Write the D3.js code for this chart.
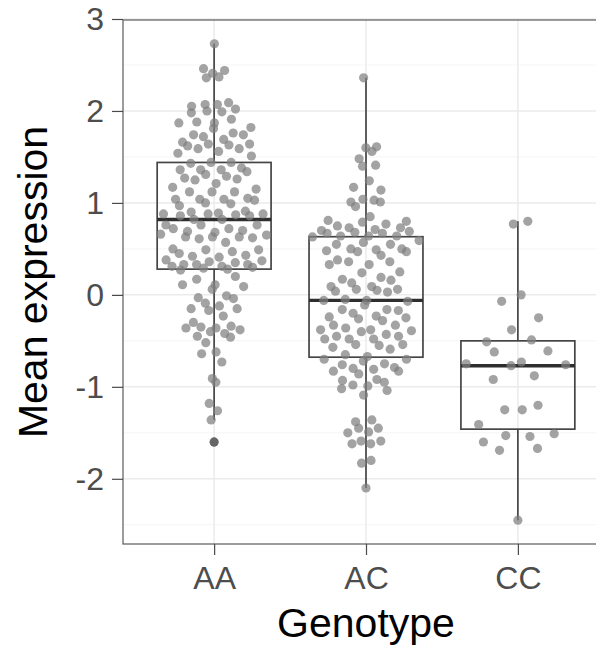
<!DOCTYPE html>
<html>
<head>
<meta charset="utf-8">
<script src="https://cdn.jsdelivr.net/npm/d3@7"></script>
<style>
body { margin: 0; background: #fff; }
svg { display: block; font-family: "Liberation Sans", Arial, Helvetica, sans-serif; }
</style>
</head>
<body>
<svg></svg>
<script>
var genotypes = ["AA", "AC", "CC"];

var aaValues = [2.73, 2.41, 2.46, 2.44, 2.36, 2.37, 2.07, 2.05, 2.00, 2.02, 2.09, 2.07, 1.99, 1.98,
    1.81, 1.88, 1.87, 1.82, 1.91, 1.87, 1.74, 1.74, 1.76, 1.72, 1.64, 1.59, 1.66, 1.62, 1.64, 1.59,
    1.69, 1.63, 1.54, 1.56, 1.51, 1.44, 1.43, 1.44,
    1.31, 1.25, 1.36, 1.36, 1.27, 1.34, 1.26, 1.38, 1.36, 1.29, 1.21, 1.17, 1.12, 1.12, 1.15, 1.04,
    1.04, 0.97, 1.00, 0.90, 0.88, 0.87, 1.03, 1.05, 1.04, 1.12, 0.99, 0.88, 0.91, 0.88, 0.89, 0.86,
    0.86, 0.82, 0.82,
    0.76, 0.72, 0.69, 0.76, 0.68, 0.63, 0.72, 0.70, 0.76, 0.66, 0.61, 0.57, 0.62, 0.63, 0.65, 0.63,
    0.50, 0.43, 0.41, 0.47, 0.49, 0.45, 0.42, 0.49, 0.37, 0.35, 0.31, 0.38, 0.33, 0.33, 0.36, 0.31,
    0.30, 0.33,
    0.27, 0.29, 0.28, 0.20, 0.17, 0.11, 0.11, 0.06, 0.09, -0.03, -0.01, -0.04, -0.15, -0.09, -0.12,
    -0.15, -0.17, -0.23, -0.30, -0.36, -0.36, -0.35, -0.34, -0.38, -0.45, -0.52, -0.40, -0.42, -0.46,
    -0.64, -0.62, -0.73, -0.91, -0.95, -1.18, -1.26, -1.36, -1.60];

var acValues = [2.36, 1.60, 1.61, 1.56, 1.48, 1.40, 1.41, 1.24, 1.17, 1.14, 1.04, 1.01, 1.01, 1.03, 0.96,
    0.85, 0.80, 0.81, 0.79, 0.73, 0.75, 0.77, 0.71, 0.68, 0.70, 0.73, 0.69, 0.64, 0.67, 0.63, 0.64,
    0.67, 0.64, 0.57, 0.55, 0.59, 0.55, 0.50, 0.50,
    0.48, 0.49, 0.43, 0.47, 0.47, 0.33, 0.38, 0.36, 0.33, 0.36, 0.24, 0.25, 0.17, 0.13, 0.19, 0.16,
    0.09, 0.04, 0.06, 0.09, 0.05, 0.03, 0.06, -0.06, -0.05, -0.06, -0.07, -0.11,
    -0.16, -0.24, -0.20, -0.26, -0.23, -0.28, -0.16, -0.17, -0.25, -0.33, -0.36, -0.39, -0.38, -0.43,
    -0.33, -0.38, -0.40, -0.48, -0.45, -0.48, -0.48, -0.54, -0.55, -0.45, -0.54, -0.57, -0.59, -0.65,
    -0.70, -0.67, -0.70, -0.83, -0.76, -0.80, -0.86, -0.81, -0.75, -0.79, -0.83, -0.72, -0.93, -1.02,
    -0.98, -0.99, -0.92, -0.95, -1.04, -1.09,
    -1.38, -1.36, -1.45, -1.50, -1.49, -1.45, -1.62, -1.59, -1.62, -1.59, -1.83, -1.80, -2.10];

var ccValues = [0.77, 0.80, -0.07, 0.00, -0.25, -0.38, -0.49, -0.51, -0.62, -0.61, -0.75, -0.73, -0.77,
    -0.76, -0.88, -0.92, -1.25, -1.25, -1.20, -1.41, -1.60, -1.53, -1.54, -1.51, -1.69, -1.67, -2.45];

var yTicks = [-2, -1, 0, 1, 2, 3];
var yMinorTicks = [-2.5, -1.5, -0.5, 0.5, 1.5, 2.5];

var viewWidth = 596;
var viewHeight = 646;

// the right edge of the panel runs past the picture, as in the original
var margin = {top: 20, right: -13, bottom: 102, left: 123};
var width = viewWidth - margin.left - margin.right;
var height = viewHeight - margin.top - margin.bottom;

var svg = d3.select("svg")
    .attr("width", viewWidth)
    .attr("height", viewHeight)
    .append("g")
    .attr("transform", "translate(" + margin.left + "," + margin.top + ")");

var groups = [
    {key: "AA", values: aaValues},
    {key: "AC", values: acValues},
    {key: "CC", values: ccValues}
];

function boxStats(values) {
    var s = values.slice().sort(d3.ascending);
    var q1 = d3.quantileSorted(s, 0.25);
    var med = d3.quantileSorted(s, 0.5);
    var q3 = d3.quantileSorted(s, 0.75);
    var iqr = q3 - q1;
    var lo = d3.min(s.filter(function(v) { return v >= q1 - 1.5 * iqr; }));
    var hi = d3.max(s.filter(function(v) { return v <= q3 + 1.5 * iqr; }));
    var outliers = s.filter(function(v) { return v < lo || v > hi; });
    return {q1: q1, med: med, q3: q3, lo: lo, hi: hi, outliers: outliers};
}

function vanDerCorput(n) {
    var out = [];
    for (var i = 1; i <= n; i++) {
        var v = 0, denom = 1, k = i;
        while (k > 0) {
            denom *= 2;
            v += (k % 2) / denom;
            k = Math.floor(k / 2);
        }
        out.push(v);
    }
    return out;
}

// quasirandom offsets (like ggbeeswarm::geom_quasirandom), in -1..1
function quasiOffsets(values) {
    var n = values.length;
    var s = values.slice().sort(d3.ascending);
    var iqr = d3.quantileSorted(s, 0.75) - d3.quantileSorted(s, 0.25);
    var bw = 0.5 * 0.9 * Math.min(d3.deviation(values), iqr / 1.34) * Math.pow(n, -0.2);
    function dens(y) {
        return d3.sum(values, function(v) { var z = (y - v) / bw; return Math.exp(-0.5 * z * z); });
    }
    var grid = d3.range(0, 512).map(function(i) {
        return s[0] - 3 * bw + i * (s[n - 1] - s[0] + 6 * bw) / 511;
    });
    var maxDens = d3.max(grid, dens);
    var order = d3.range(n).sort(function(a, b) { return values[a] - values[b] || a - b; });
    var rank = [];
    order.forEach(function(idx, r) { rank[idx] = r; });
    var vdc = vanDerCorput(n);
    return values.map(function(v, i) {
        return (vdc[rank[i]] - 0.5) * 2 * dens(v) / maxDens;
    });
}

var allValues = aaValues.concat(acValues, ccValues);
var ext = d3.extent(allValues);
var pad = (ext[1] - ext[0]) * 0.05;

var y = d3.scaleLinear()
    .domain([ext[0] - pad, ext[1] + pad])
    .range([height, 0]);

var x = d3.scalePoint()
    .domain(genotypes)
    .range([0, width])
    .padding(0.6);

// grid
svg.selectAll(".minor")
    .data(yMinorTicks)
    .enter()
    .append("line")
        .attr("x1", 0).attr("x2", width)
        .attr("y1", function(d) { return y(d); })
        .attr("y2", function(d) { return y(d); })
        .style("stroke", "#f2f2f2")
        .style("stroke-width", 0.8);

svg.selectAll(".major")
    .data(yTicks)
    .enter()
    .append("line")
        .attr("x1", 0).attr("x2", width)
        .attr("y1", function(d) { return y(d); })
        .attr("y2", function(d) { return y(d); })
        .style("stroke", "#ebebeb")
        .style("stroke-width", 1.5);

svg.selectAll(".vgrid")
    .data(genotypes)
    .enter()
    .append("line")
        .attr("x1", function(d) { return x(d); })
        .attr("x2", function(d) { return x(d); })
        .attr("y1", 0).attr("y2", height)
        .style("stroke", "#ebebeb")
        .style("stroke-width", 1.5);

// boxes
var boxWidth = 0.75 * x.step();
var boxColor = "#454545";

groups.forEach(function(g) {
    var st = boxStats(g.values);
    var cx = x(g.key);
    var box = svg.append("g");

    box.append("line")
        .attr("x1", cx).attr("x2", cx)
        .attr("y1", y(st.hi)).attr("y2", y(st.q3))
        .style("stroke", boxColor).style("stroke-width", 1.7);
    box.append("line")
        .attr("x1", cx).attr("x2", cx)
        .attr("y1", y(st.q1)).attr("y2", y(st.lo))
        .style("stroke", boxColor).style("stroke-width", 1.7);
    box.append("rect")
        .attr("x", cx - boxWidth / 2)
        .attr("y", y(st.q3))
        .attr("width", boxWidth)
        .attr("height", y(st.q1) - y(st.q3))
        .style("fill", "none")
        .style("stroke", boxColor)
        .style("stroke-width", 1.7);
    box.append("line")
        .attr("x1", cx - boxWidth / 2).attr("x2", cx + boxWidth / 2)
        .attr("y1", y(st.med)).attr("y2", y(st.med))
        .style("stroke", "#2e2e2e").style("stroke-width", 3.4);

    box.selectAll("circle")
        .data(st.outliers)
        .enter()
        .append("circle")
            .attr("cx", cx)
            .attr("cy", function(d) { return y(d); })
            .attr("r", 4.4)
            .style("fill", "#222");
});

// points
var swarmWidth = 0.37 * x.step();

groups.forEach(function(g) {
    var offs = quasiOffsets(g.values);
    svg.append("g")
        .selectAll("circle")
        .data(g.values)
        .enter()
        .append("circle")
            .attr("cx", function(d, i) { return x(g.key) + offs[i] * swarmWidth; })
            .attr("cy", function(d) { return y(d); })
            .attr("r", 4.6)
            .style("fill", "#7f7f7f")
            .style("fill-opacity", 0.72);
});

// panel border
svg.append("rect")
    .attr("x", 0).attr("y", 0)
    .attr("width", width).attr("height", height)
    .style("fill", "none")
    .style("stroke", "#5a5a5a")
    .style("stroke-width", 1.2);

// axes
var yAxis = svg.append("g")
    .call(d3.axisLeft(y).tickValues(yTicks).tickSize(11).tickPadding(8)
        .tickFormat(function(d) { return String(d); }));
yAxis.select(".domain").remove();
yAxis.selectAll("line").style("stroke", "#4a4a4a").style("stroke-width", 1.2);
yAxis.selectAll("text")
    .attr("font-size", 32)
    .attr("font-family", "Liberation Sans, Arial, sans-serif")
    .style("fill", "#4d4d4d");

var xAxis = svg.append("g")
    .attr("transform", "translate(0," + height + ")")
    .call(d3.axisBottom(x).tickSize(11).tickPadding(11));
xAxis.select(".domain").remove();
xAxis.selectAll("line").style("stroke", "#4a4a4a").style("stroke-width", 1.2);
xAxis.selectAll("text")
    .attr("font-size", 32)
    .attr("font-family", "Liberation Sans, Arial, sans-serif")
    .style("fill", "#4d4d4d");

svg.append("text")
    .attr("transform", "rotate(-90)")
    .attr("x", -height / 2)
    .attr("y", 47 - margin.left)
    .style("text-anchor", "middle")
    .style("font-size", "41px")
    .style("fill", "#000")
    .text("Mean expression");

svg.append("text")
    .attr("x", width / 2)
    .attr("y", 637 - margin.top)
    .style("text-anchor", "middle")
    .style("font-size", "41px")
    .style("fill", "#000")
    .text("Genotype");
</script>
</body>
</html>
